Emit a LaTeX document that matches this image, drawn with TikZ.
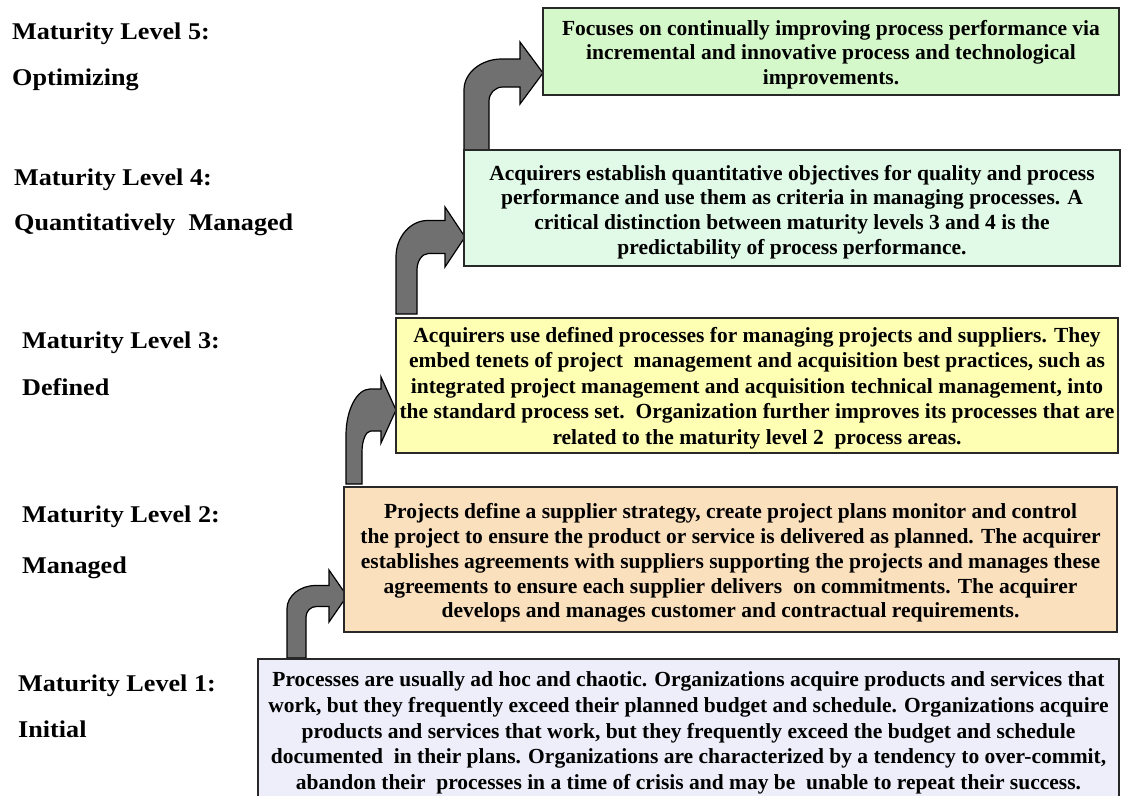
\documentclass[tikz,border=0pt]{standalone}
\usepackage{fontspec}
\setmainfont{Liberation Serif}
\newfontfamily\bodyfont{Liberation Serif}
\newfontfamily\labelfont{Liberation Serif}[FakeStretch=1.09]
\usetikzlibrary{calc}
\definecolor{c5}{RGB}{213,248,203}
\definecolor{c4}{RGB}{225,250,232}
\definecolor{c3}{RGB}{255,255,180}
\definecolor{c2}{RGB}{251,224,190}
\definecolor{c1}{RGB}{238,238,250}
\definecolor{arrowgray}{RGB}{112,112,112}
\definecolor{edge}{RGB}{40,40,40}
\tikzset{
  levelbox/.style={draw=edge, line width=1.4pt, inner sep=0pt},
  boxtext/.style={inner sep=0pt, align=center,
    font=\bodyfont\bfseries\fontsize{21.5}{#1}\selectfont},
  levellabel/.style={anchor=base west, inner sep=0pt,
    font=\labelfont\bfseries\fontsize{24}{28}\selectfont},
  bentarrow/.style={fill=arrowgray, draw=black, line width=1.2pt, line join=miter}
}
% #1 x0, #2 shaft width (horiz), #3 bottom y, #4 head base x, #5 tip x, #6 tip y, #7 head half height, #8 horizontal shaft thickness
\newcommand{\bentarrowpath}[8]{%
  \path[bentarrow] (#1,#3) -- (#1,#6-#8/2+1.1*#8)
    .. controls (#1,#6-#8/2+0.5*#8) and (#1+0.68*#2,#6-#8/2) .. (#1+1.5*#2,#6-#8/2)
    -- (#4,#6-#8/2) -- (#4,#6-#7) -- (#5,#6) -- (#4,#6+#7) -- (#4,#6+#8/2)
    -- (#1+#2+0.55*#2,#6+#8/2)
    .. controls (#1+#2+0.25*#2,#6+#8/2) and (#1+#2,#6+#8/2+0.22*#8) .. (#1+#2,#6+#8/2+0.5*#8)
    -- (#1+#2,#3) -- cycle;}
\begin{document}
\begin{tikzpicture}[x=1pt,y=-1pt]
\useasboundingbox[fill=white] (0,0) rectangle (1121,795);

% arrows (drawn first, boxes overlap their feet)
\bentarrowpath{287}{19}{658}{329}{347}{596}{26}{21}
\bentarrowpath{346}{16}{484}{381}{396}{410}{33}{42}
\bentarrowpath{396}{21}{314}{445}{465}{237}{30}{33}
\bentarrowpath{464}{25}{150}{520}{543}{73}{31}{28}

% boxes
\node[levelbox, fill=c5, minimum width=576pt, minimum height=87pt] (b5) at (831,51.5) {};
\node[boxtext=24.3] (t5) at ($(b5.center)+(0,3)$)
  {Focuses on continually improving process performance via\\
   incremental and innovative process and technological\\
   improvements.};
\node[levelbox, fill=c4, minimum width=656pt, minimum height=116pt] (b4) at (792,208) {};
\node[boxtext=24.7] (t4) at ($(b4.center)+(0,4)$)
  {Acquirers establish quantitative objectives for quality and process\\
   performance and use them as criteria in managing processes. A\\
   critical distinction between maturity levels 3 and 4 is the\\
   predictability of process performance.};
\node[levelbox, fill=c3, minimum width=722pt, minimum height=135pt] (b3) at (757,385.5) {};
\node[boxtext=25.5] (t3) at ($(b3.center)+(0,2.5)$)
  {Acquirers use defined processes for managing projects and suppliers. They\\
   embed tenets of project\ \ management\ and acquisition best practices, such as\\
   integrated project management\ and acquisition technical management, into\\
   the standard process set.\ \ Organization further improves its processes that are\\
   related to the maturity level 2\ \ process areas.};
\node[levelbox, fill=c2, minimum width=773pt, minimum height=145pt] (b2) at (730.5,559.5) {};
\node[boxtext=24.8] (t2) at ($(b2.center)+(0,3.5)$)
  {Projects define a supplier strategy, create project plans monitor and control\\
   the project to ensure the product or service is delivered as planned. The acquirer\\
   establishes agreements with suppliers supporting the projects and manages these\\
   agreements to ensure each supplier delivers\ \ on commitments. The acquirer\\
   develops and manages customer and contractual requirements.};
\node[levelbox, fill=c1, minimum width=861pt, minimum height=144pt] (b1) at (688.5,731) {};
\node[boxtext=25.8] (t1) at ($(b1.center)+(0,2)$)
  {Processes are usually ad hoc and chaotic. Organizations acquire products and services that\\
   work, but they frequently exceed their planned budget and schedule. Organizations acquire\\
   products and services that work, but they frequently exceed the budget\ and schedule\\
   documented\ \ in their plans. Organizations are characterized by a tendency to over-commit,\\
   abandon their\ \ processes in a time of crisis and may be\ \ unable to repeat their success.};

% level labels
\node[levellabel] (l5a) at (12,39) {Maturity Level 5:};
\node[levellabel] (l5b) at (12,85) {Optimizing};
\node[levellabel] (l4a) at (14,185) {Maturity Level 4:};
\node[levellabel] (l4b) at (14,230) {Quantitatively\ \ Managed};
\node[levellabel] (l3a) at (22,348) {Maturity Level 3:};
\node[levellabel] (l3b) at (22,395) {Defined};
\node[levellabel] (l2a) at (22,522) {Maturity Level 2:};
\node[levellabel] (l2b) at (22,573) {Managed};
\node[levellabel] (l1a) at (18,691) {Maturity Level 1:};
\node[levellabel] (l1b) at (18,737) {Initial};
\end{tikzpicture}
\end{document}
